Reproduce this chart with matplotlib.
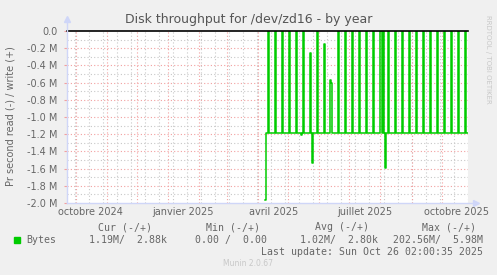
import numpy as np
import pandas as pd
import matplotlib
matplotlib.use('Agg')
import matplotlib.pyplot as plt
import matplotlib.dates as mdates

# read throughput in MB/s (plotted negative, munin style)
start_day = '2025-04-08'
end_day = '2025-10-27'
first_value = -1.97
base_level = -1.19
spike_days = ['2025-04-11', '2025-04-18', '2025-04-25', '2025-05-02', '2025-05-09',
              '2025-05-16', '2025-05-23', '2025-05-30', '2025-06-06', '2025-06-12',
              '2025-06-13', '2025-06-20', '2025-06-27', '2025-07-04', '2025-07-11',
              '2025-07-18', '2025-07-25', '2025-08-01', '2025-08-03', '2025-08-08',
              '2025-08-15', '2025-08-22', '2025-08-29', '2025-09-05', '2025-09-12',
              '2025-09-19', '2025-09-26', '2025-10-03', '2025-10-10', '2025-10-17',
              '2025-10-24']
spike_values = [0.0, 0.0, 0.0, 0.0, 0.0,
                0.0, -0.25, 0.0, -0.15, -0.57,
                -0.60, 0.0, 0.0, 0.0, 0.0,
                0.0, 0.0, 0.0, 0.0, 0.0,
                0.0, 0.0, 0.0, 0.0, 0.0,
                0.0, 0.0, 0.0, 0.0, 0.0,
                0.0]
dip_days = ['2025-05-14', '2025-05-25', '2025-08-05']
dip_values = [-1.21, -1.53, -1.59]

y_ticks = [0.0, -0.2, -0.4, -0.6, -0.8, -1.0, -1.2, -1.4, -1.6, -1.8, -2.0]
x_labels = ['octobre 2024', 'janvier 2025', 'avril 2025', 'juillet 2025', 'octobre 2025']
x_label_days = ['2024-10-16', '2025-01-16', '2025-04-16', '2025-07-16', '2025-10-16']

legend_cols = ['Cur (-/+)', 'Min (-/+)', 'Avg (-/+)', 'Max (-/+)']
legend_vals = ['1.19M/  2.88k', '0.00 /  0.00', '1.02M/  2.80k', '202.56M/  5.98M']

W, H = 497, 275
FONT = '#666666'
AXIS = '#CFD6F8'


def px(x, y):
    return x / W, 1 - y / H


days = pd.date_range(start_day, end_day, freq='D')
read = np.full(len(days), base_level)
read[0] = first_value
for d, v in zip(spike_days, spike_values):
    read[days.get_loc(pd.Timestamp(d))] = v
for d, v in zip(dip_days, dip_values):
    read[days.get_loc(pd.Timestamp(d))] = v

fig = plt.figure(figsize=(W / 100, H / 100), dpi=100, facecolor='#F0F0F0')
ax = fig.add_axes([67 / W, 72 / H, 401 / W, 172 / H], facecolor='white')

x0 = mdates.date2num(pd.Timestamp('2024-09-22 06:00'))
x1 = mdates.date2num(pd.Timestamp('2025-10-27 07:00'))
ax.set_xlim(x0, x1)
ax.set_ylim(-2.0, 0.0)

# grid
for yv in np.arange(-1.9, 0.0, 0.2):
    ax.axhline(yv, color='#c8c8c8', lw=0.8, ls=(0, (1, 2)), zorder=1)
for yv in y_ticks[1:-1]:
    ax.axhline(yv, color='#f2a0a0', lw=0.8, ls=(0, (1, 2)), zorder=1)
for d in pd.date_range('2024-09-30', '2025-10-27', freq='14D'):
    ax.axvline(mdates.date2num(d), color='#c8c8c8', lw=0.8, ls=(0, (1, 2)), zorder=1)
for d in pd.date_range('2024-10-01', '2025-10-01', freq='MS'):
    ax.axvline(mdates.date2num(d), color='#f2a0a0', lw=0.8, ls=(0, (1, 2)), zorder=1)

ax.plot(mdates.date2num(days), read, drawstyle='steps-post', color='#00CC00', lw=1.1, zorder=3)
ax.axhline(0.0, color='black', lw=1.2, zorder=4, clip_on=False)

# axes look
for s in ['top', 'right', 'bottom', 'left']:
    ax.spines[s].set_visible(False)
ax.plot([0, 0], [0, 1.06], color=AXIS, lw=1, transform=ax.transAxes, clip_on=False, zorder=5)
ax.plot([0, 1.015], [0, 0], color=AXIS, lw=1, transform=ax.transAxes, clip_on=False, zorder=5)
ax.plot([0], [1.07], marker='^', ms=5, color=AXIS, transform=ax.transAxes, clip_on=False)
ax.plot([1.02], [0], marker='>', ms=5, color=AXIS, transform=ax.transAxes, clip_on=False)

ax.set_yticks(y_ticks)
ax.set_yticklabels(['0.0'] + ['%.1f M' % v for v in y_ticks[1:]])
ax.tick_params(axis='y', length=2, color='#f2a0a0', labelsize=7, labelcolor=FONT, pad=5)
ax.set_xticks([mdates.date2num(pd.Timestamp(d)) for d in x_label_days])
ax.set_xticklabels(x_labels)
ax.tick_params(axis='x', length=0, labelsize=7, labelcolor=FONT, pad=3)

fig.text(*px(11, 116), 'Pr second read (-) / write (+)', rotation=90, ha='center', va='center',
         fontsize=7, color=FONT)
fig.text(*px(248.5, 20), 'Disk throughput for /dev/zd16 - by year', ha='center', va='center',
         fontsize=9, color='#555555')
fig.text(*px(488, 15), 'RRDTOOL / TOBI OETIKER', rotation=-90, ha='center', va='top',
         fontsize=5, color='#c8c8c8')

# legend block
mono = 'DejaVu Sans Mono'
for cx, t in zip([125, 233, 342, 449.5], legend_cols):
    fig.text(*px(cx, 227), t, ha='center', va='center', fontsize=7.1, family=mono, color=FONT)
fig.patches.append(plt.Rectangle(px(14, 243), 6 / W, 6 / H, transform=fig.transFigure,
                                 color='#00CC00', figure=fig))
fig.text(*px(26, 240), 'Bytes', ha='left', va='center', fontsize=7.1, family=mono, color=FONT)
for rx, t in zip([167, 267, 378, 483], legend_vals):
    fig.text(*px(rx, 240), t, ha='right', va='center', fontsize=7.1, family=mono, color=FONT)
fig.text(*px(483, 252), 'Last update: Sun Oct 26 02:00:35 2025', ha='right', va='center',
         fontsize=7.1, family=mono, color=FONT)
fig.text(*px(248, 264), 'Munin 2.0.67', ha='center', va='center', fontsize=5.5, color='#c8c8c8')

fig.savefig('out.png', dpi=100, facecolor=fig.get_facecolor())
